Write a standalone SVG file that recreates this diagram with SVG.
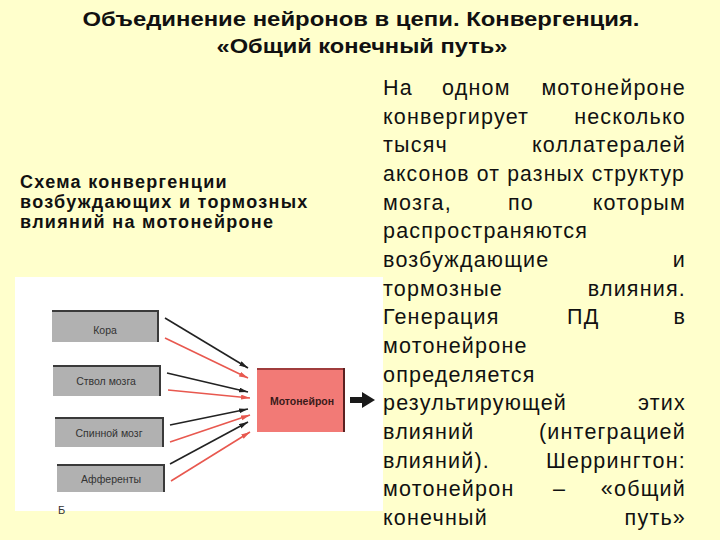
<svg xmlns="http://www.w3.org/2000/svg" width="720" height="540" viewBox="0 0 720 540">
<style>
.title{font-family:"Liberation Sans",Arial,sans-serif;font-weight:bold;font-size:20px;fill:#111;text-anchor:middle}
.cap{font-family:"Liberation Sans",Arial,sans-serif;font-weight:bold;font-size:18px;letter-spacing:1.3px;fill:#111}
.body{font-family:"Liberation Sans",Arial,sans-serif;font-size:21.5px;letter-spacing:1.2px;fill:#111}
.end{text-anchor:end}
.box{fill:#b1b1b1}
.edge{stroke:#3a3a3a;stroke-width:2;fill:none}
.lbl{font-family:"Liberation Sans",Arial,sans-serif;font-size:10.5px;fill:#333;text-anchor:middle}
.blk{stroke:#222;stroke-width:1.6;fill:none;marker-end:url(#ab)}
.red{stroke:#e8584f;stroke-width:1.6;fill:none;marker-end:url(#ar)}
</style>
<defs>
<marker id="ab" markerUnits="userSpaceOnUse" markerWidth="10" markerHeight="6" refX="9" refY="2.5" orient="auto"><path d="M0,0 L9,2.5 L0,5 z" fill="#222"/></marker>
<marker id="ar" markerUnits="userSpaceOnUse" markerWidth="10" markerHeight="6" refX="9" refY="2.5" orient="auto"><path d="M0,0 L9,2.5 L0,5 z" fill="#e8584f"/></marker>
</defs>
<rect width="720" height="540" fill="#ffffcc"/>
<g id="title">
<text class="title" x="361" y="26" textLength="557" lengthAdjust="spacingAndGlyphs">Объединение нейронов в цепи. Конвергенция.</text>
<text class="title" x="362" y="53" textLength="291" lengthAdjust="spacingAndGlyphs">«Общий конечный путь»</text>
</g>
<g id="caption">
<text class="cap" x="20" y="188">Схема конвергенции</text>
<text class="cap" x="20" y="208">возбуждающих и тормозных</text>
<text class="cap" x="20" y="228">влияний на мотонейроне</text>
</g>
<rect id="picture" x="15" y="277" width="368" height="234" fill="#ffffff"/>
<g id="n-kora">
<rect class="box" x="52" y="310" width="107" height="32"/>
<path class="edge" d="M52,311 H159 M158,310 V342"/>
<text class="lbl" x="105" y="334">Кора</text>
</g>
<g id="n-stvol">
<rect class="box" x="53" y="365" width="108" height="31"/>
<path class="edge" d="M53,366 H161 M160,365 V396"/>
<text class="lbl" x="106" y="385">Ствол мозга</text>
</g>
<g id="n-spinnoy">
<rect class="box" x="55" y="417" width="109" height="30"/>
<path class="edge" d="M55,418 H164 M163,417 V447"/>
<text class="lbl" x="109" y="437">Спинной мозг</text>
</g>
<g id="n-afferenty">
<rect class="box" x="57" y="464" width="108" height="28"/>
<path class="edge" d="M57,465 H165 M164,464 V492"/>
<text class="lbl" x="111" y="483">Афференты</text>
</g>
<g id="n-motoneuron">
<rect x="257" y="368" width="88" height="64" fill="#f27a76"/>
<path d="M257,369 H345" stroke="#a03c3c" stroke-width="2" fill="none"/>
<path d="M344,368 V432" stroke="#5a2020" stroke-width="2" fill="none"/>
<text x="302" y="405" font-family="Liberation Sans, Arial, sans-serif" font-size="10.5" font-weight="bold" fill="#3a1a1a" text-anchor="middle">Мотонейрон</text>
</g>
<g id="connectors">
<line class="blk" x1="165" y1="318" x2="248" y2="368"/>
<line class="red" x1="165" y1="338" x2="248" y2="378"/>
<line class="blk" x1="167" y1="373" x2="248" y2="392"/>
<line class="red" x1="168" y1="390" x2="250" y2="398"/>
<line class="blk" x1="170" y1="425" x2="248" y2="409"/>
<line class="red" x1="170" y1="442" x2="250" y2="415"/>
<line class="blk" x1="170" y1="464" x2="248" y2="422"/>
<line class="red" x1="171" y1="481" x2="250" y2="432"/>
<polygon points="350,397 362,397 362,392 375,400 362,408 362,403 350,403" fill="#1a1a1a"/>
</g>
<text x="58" y="514" font-family="Liberation Sans, Arial, sans-serif" font-size="11" fill="#333">Б</text>
<g id="body">
<text class="body" x="383" y="95">На</text>
<text class="body" x="442" y="95">одном</text>
<text class="body end" x="686" y="95">мотонейроне</text>
<text class="body" x="383" y="123.7">конвергирует</text>
<text class="body end" x="686" y="123.7">несколько</text>
<text class="body" x="383" y="152.3">тысяч</text>
<text class="body end" x="686" y="152.3">коллатералей</text>
<text class="body" x="383" y="181" textLength="302" lengthAdjust="spacingAndGlyphs">аксонов от разных структур</text>
<text class="body" x="383" y="209.7">мозга,</text>
<text class="body" x="508" y="209.7">по</text>
<text class="body end" x="686" y="209.7">которым</text>
<text class="body" x="383" y="238.3">распространяются</text>
<text class="body" x="383" y="267">возбуждающие</text>
<text class="body end" x="686" y="267">и</text>
<text class="body" x="383" y="295.7">тормозные</text>
<text class="body end" x="686" y="295.7">влияния.</text>
<text class="body" x="383" y="324.4">Генерация</text>
<text class="body" x="567" y="324.4">ПД</text>
<text class="body end" x="686" y="324.4">в</text>
<text class="body" x="383" y="353">мотонейроне</text>
<text class="body" x="383" y="381.7">определяется</text>
<text class="body" x="383" y="410.4">результирующей</text>
<text class="body end" x="686" y="410.4">этих</text>
<text class="body" x="383" y="439">влияний</text>
<text class="body end" x="686" y="439">(интеграцией</text>
<text class="body" x="383" y="467.7">влияний).</text>
<text class="body end" x="686" y="467.7">Шеррингтон:</text>
<text class="body" x="383" y="496.4">мотонейрон</text>
<text class="body" x="553" y="496.4">–</text>
<text class="body end" x="686" y="496.4">«общий</text>
<text class="body" x="383" y="525">конечный</text>
<text class="body end" x="686" y="525">путь»</text>
</g>
</svg>
